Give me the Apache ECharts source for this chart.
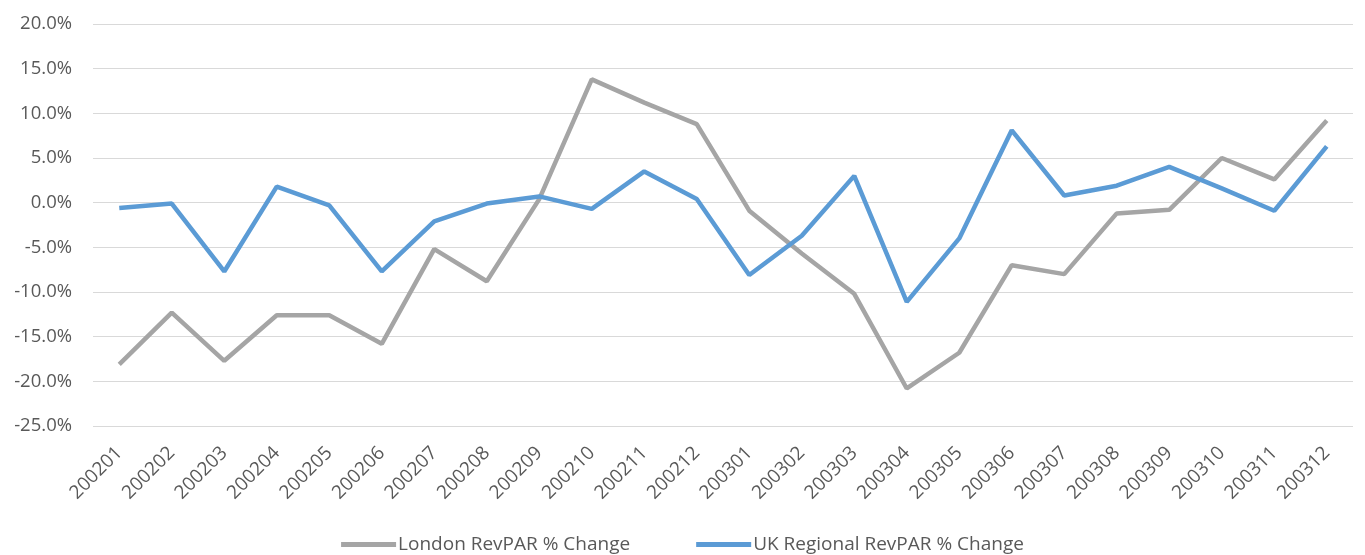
<!DOCTYPE html>
<html>
<head>
<meta charset="utf-8">
<script src="https://cdn.jsdelivr.net/npm/echarts@6/dist/echarts.min.js"></script>
<style>html,body{margin:0;padding:0;background:#fff;}#c{width:1365px;height:555px;}</style>
</head>
<body>
<div id="c"></div>
<script>
const categories = ['200201','200202','200203','200204','200205','200206','200207','200208','200209','200210','200211','200212',
  '200301','200302','200303','200304','200305','200306','200307','200308','200309','200310','200311','200312'];
const londonChange = [-18.1,-12.3,-17.7,-12.6,-12.6,-15.8,-5.2,-8.8,0.4,13.8,11.2,8.8,
  -0.9,-5.7,-10.2,-20.8,-16.8,-7.0,-8.0,-1.2,-0.8,5.0,2.6,9.2];
const ukRegionalChange = [-0.6,-0.1,-7.7,1.8,-0.3,-7.7,-2.1,-0.1,0.7,-0.7,3.5,0.4,
  -8.1,-3.7,3.0,-11.1,-4.0,8.1,0.8,1.9,4.0,1.6,-0.9,6.3];
const seriesNames = ['London RevPAR % Change','UK Regional RevPAR % Change'];
const yTicks = {min:-25, max:20, step:5};

const font = 'Open Sans';
const chart = echarts.init(document.getElementById('c'));
chart.setOption({
  animation:false,
  backgroundColor:'#ffffff',
  grid:{left:93, right:12, top:24, bottom:129},
  legend:{
    data:seriesNames, left:'center', top:535, padding:0,
    icon:'rect', itemWidth:55, itemHeight:5, itemGap:66,
    textStyle:{fontFamily:font, fontSize:19, color:'#595959', padding:[0,0,0,-3]}
  },
  xAxis:{
    type:'category', data:categories, boundaryGap:true,
    axisLine:{show:false}, axisTick:{show:false},
    axisLabel:{rotate:45, interval:0, margin:24, fontFamily:font, fontSize:19, color:'#595959'}
  },
  yAxis:{
    type:'value', min:yTicks.min, max:yTicks.max, interval:yTicks.step,
    axisLine:{show:false}, axisTick:{show:false},
    splitLine:{lineStyle:{color:'#d9d9d9', width:1}},
    axisLabel:{margin:21, fontFamily:font, fontSize:18.5, color:'#595959',
      formatter:v=>v.toFixed(1)+'%'}
  },
  series:[
    {name:seriesNames[0], type:'line', data:londonChange, showSymbol:false, symbol:'none',
      lineStyle:{color:'#a5a5a5', width:4.5}, itemStyle:{color:'#a5a5a5'}},
    {name:seriesNames[1], type:'line', data:ukRegionalChange, showSymbol:false, symbol:'none',
      lineStyle:{color:'#5b9bd5', width:4.5}, itemStyle:{color:'#5b9bd5'}}
  ]
});
</script>
</body>
</html>
